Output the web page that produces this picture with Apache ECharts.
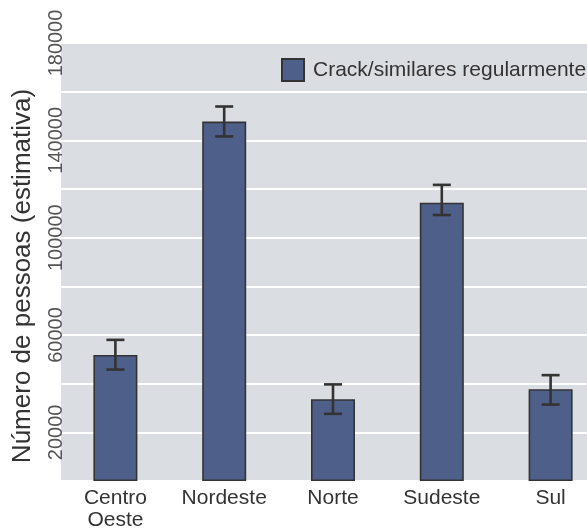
<!DOCTYPE html>
<html>
<head>
<meta charset="utf-8">
<script src="https://cdn.jsdelivr.net/npm/echarts@6/dist/echarts.min.js"></script>
<style>
  html, body { margin: 0; padding: 0; background: #ffffff; overflow: hidden; }
  #chart { width: 605px; height: 531px; }
</style>
</head>
<body>
<div id="chart"></div>
<script>
// Regiões do Brasil e estimativas de usuários regulares de crack/similares
const regions = ['Centro\nOeste', 'Nordeste', 'Norte', 'Sudeste', 'Sul'];
const estimates = [51800, 147700, 33600, 114400, 37700];
const ciLow = [45800, 141600, 27600, 109300, 31400];
const ciHigh = [58000, 153900, 39700, 121700, 43500];
const yTicks = [20000, 60000, 100000, 140000, 180000];
const seriesName = 'Crack/similares regularmente';
const yTitle = 'Número de pessoas (estimativa)';

const font = 'Liberation Sans, Arial, sans-serif';
const chart = echarts.init(document.getElementById('chart'), null, { renderer: 'canvas' });

const errData = regions.map((_, i) => [i, ciLow[i], ciHigh[i]]);

chart.setOption({
  backgroundColor: '#ffffff',
  animation: false,
  textStyle: { fontFamily: font },
  grid: {
    left: 61, right: 0, top: 43, bottom: 42.5,
    show: true, backgroundColor: '#dadde1', borderWidth: 0
  },
  legend: {
    data: [seriesName],
    left: 281, top: 58, padding: 0,
    icon: 'rect', itemWidth: 22, itemHeight: 22,
    textStyle: { fontSize: 21, color: '#333333', fontFamily: font, padding: [0, 0, 0, 4] }
  },
  xAxis: {
    type: 'category',
    data: regions,
    axisLine: { show: false },
    axisTick: { show: false },
    splitLine: { show: false },
    axisLabel: {
      fontSize: 21, color: '#333333', fontFamily: font,
      margin: 6, lineHeight: 22, interval: 0
    }
  },
  yAxis: {
    type: 'value',
    min: 0, max: 180000, interval: 20000,
    name: yTitle,
    nameLocation: 'middle',
    nameGap: 25,
    nameTextStyle: { fontSize: 26, color: '#333333', fontFamily: font, padding: [0, 28, 0, 0] },
    axisLine: { show: false },
    axisTick: { show: false },
    splitLine: { show: true, lineStyle: { color: '#ffffff', width: 2 } },
    axisLabel: {
      rotate: 90, fontSize: 20, color: '#555555', fontFamily: font, margin: -5,
      formatter: v => (yTicks.includes(v) ? String(v) : '')
    }
  },
  series: [
    {
      name: seriesName,
      type: 'bar',
      data: estimates,
      barWidth: 44,
      itemStyle: { color: '#4e6089', borderColor: '#333333', borderWidth: 1.6 },
      z: 2
    },
    {
      type: 'custom',
      data: errData,
      z: 3,
      silent: true,
      renderItem: function (params, api) {
        const lo = api.coord([api.value(0), api.value(1)]);
        const hi = api.coord([api.value(0), api.value(2)]);
        const x = lo[0];
        const cap = 9;
        const style = { stroke: '#333333', lineWidth: 2.6, fill: null };
        return {
          type: 'group',
          children: [
            { type: 'line', shape: { x1: x, y1: lo[1], x2: x, y2: hi[1] }, style: style },
            { type: 'line', shape: { x1: x - cap, y1: lo[1], x2: x + cap, y2: lo[1] }, style: style },
            { type: 'line', shape: { x1: x - cap, y1: hi[1], x2: x + cap, y2: hi[1] }, style: style }
          ]
        };
      }
    }
  ]
});
</script>
</body>
</html>
